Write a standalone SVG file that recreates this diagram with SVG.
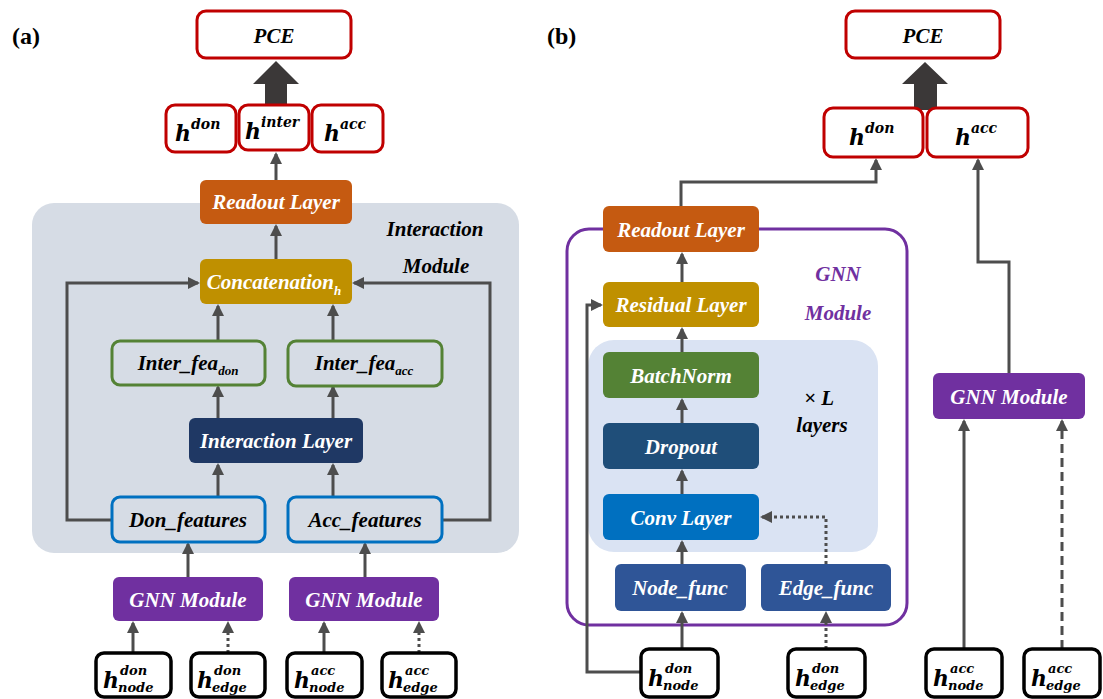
<svg xmlns="http://www.w3.org/2000/svg" width="1103" height="699" viewBox="0 0 1103 699">
<style>
.lbl{font-family:"Liberation Serif",serif;font-weight:bold;font-style:italic;font-size:21px;text-anchor:middle}
.w{fill:#fff}
.k{fill:#000}
.m{font-family:"DejaVu Serif","Liberation Serif",serif;font-weight:bold;font-style:italic;fill:#000}
.red{fill:#fff;stroke:#c00000;stroke-width:3}
.blk{fill:#fff;stroke:#000;stroke-width:3.5}
.c{fill:none;stroke:#4d4d4d;stroke-width:3}
.dot{stroke-dasharray:3 3}
.dash{stroke-dasharray:9 5}
.pl{font-family:"Liberation Serif",serif;font-weight:bold;font-size:24px;fill:#000}
</style>
<defs>
<marker id="ah" markerUnits="userSpaceOnUse" markerWidth="12" markerHeight="12" viewBox="0 0 12 12" refX="10" refY="6" orient="auto">
<path d="M0,0 L12,6 L0,12 z" fill="#4d4d4d"/>
</marker>
</defs>
<rect width="1103" height="699" fill="#fff"/>

<!-- Panel labels -->
<text class="pl" x="12" y="44">(a)</text>
<text class="pl" x="547" y="44">(b)</text>

<!-- Backgrounds -->
<g id="interaction-module">
<rect x="32" y="203" width="487" height="350" rx="22" fill="#d6dce5"/>
<text class="lbl k" x="435" y="236">Interaction</text>
<text class="lbl k" x="436" y="273">Module</text>
</g>
<g id="gnn-module-b">
<rect x="567" y="229" width="340" height="396" rx="22" fill="#fff" stroke="#7030a0" stroke-width="3"/>
<text class="lbl" x="838" y="281" fill="#7030a0">GNN</text>
<text class="lbl" x="838" y="320" fill="#7030a0">Module</text>
<rect x="588" y="340" width="290" height="212" rx="26" fill="#dae3f3"/>
<text class="lbl k" x="819" y="405">× L</text>
<text class="lbl k" x="822" y="432">layers</text>
</g>

<!-- Connectors -->
<g id="connectors">
<polygon points="276,61 299,84 287,84 287,108 265,108 265,84 253,84" fill="#3b3838"/>
<polygon points="925,62 948,84 937,84 937,110 914,110 914,84 902,84" fill="#3b3838"/>
<!-- panel a -->
<line class="c" x1="276" y1="180" x2="276" y2="154" marker-end="url(#ah)"/>
<line class="c" x1="276" y1="259" x2="276" y2="226" marker-end="url(#ah)"/>
<line class="c" x1="218" y1="341" x2="218" y2="306" marker-end="url(#ah)"/>
<line class="c" x1="333" y1="341" x2="333" y2="306" marker-end="url(#ah)"/>
<line class="c" x1="218" y1="418" x2="218" y2="387" marker-end="url(#ah)"/>
<line class="c" x1="333" y1="418" x2="333" y2="387" marker-end="url(#ah)"/>
<line class="c" x1="218" y1="497" x2="218" y2="465" marker-end="url(#ah)"/>
<line class="c" x1="333" y1="497" x2="333" y2="465" marker-end="url(#ah)"/>
<path class="c" d="M111,520 H67 V283 H198" marker-end="url(#ah)"/>
<path class="c" d="M442,520 H490 V283 H354" marker-end="url(#ah)"/>
<line class="c" x1="188" y1="577" x2="188" y2="544" marker-end="url(#ah)"/>
<line class="c" x1="365" y1="577" x2="365" y2="544" marker-end="url(#ah)"/>
<line class="c" x1="133" y1="653" x2="133" y2="623" marker-end="url(#ah)"/>
<line class="c dot" x1="228" y1="653" x2="228" y2="623" marker-end="url(#ah)"/>
<line class="c" x1="324" y1="653" x2="324" y2="623" marker-end="url(#ah)"/>
<line class="c dot" x1="419" y1="653" x2="419" y2="623" marker-end="url(#ah)"/>
<!-- panel b -->
<path class="c" d="M681,206 V182 H876 V160" marker-end="url(#ah)"/>
<path class="c" d="M1009,373 V262 H978 V160" marker-end="url(#ah)"/>
<line class="c" x1="682" y1="282" x2="682" y2="254" marker-end="url(#ah)"/>
<line class="c" x1="682" y1="352" x2="682" y2="329" marker-end="url(#ah)"/>
<line class="c" x1="682" y1="423" x2="682" y2="400" marker-end="url(#ah)"/>
<line class="c" x1="682" y1="494" x2="682" y2="471" marker-end="url(#ah)"/>
<line class="c" x1="682" y1="564" x2="682" y2="542" marker-end="url(#ah)"/>
<path class="c dot" d="M826,564 V517 H762" marker-end="url(#ah)"/>
<line class="c" x1="682" y1="649" x2="682" y2="613" marker-end="url(#ah)"/>
<line class="c dot" x1="826" y1="649" x2="826" y2="613" marker-end="url(#ah)"/>
<path class="c" d="M641,672 H587 V305 H601" marker-end="url(#ah)"/>
<line class="c" x1="964" y1="649" x2="964" y2="421" marker-end="url(#ah)"/>
<line class="c dash" x1="1062" y1="649" x2="1062" y2="421" marker-end="url(#ah)"/>
</g>

<!-- Panel a nodes -->
<g id="pce-a"><rect class="red" x="197" y="11" width="154" height="47" rx="9"/><text class="lbl k" x="274" y="43" font-size="23">PCE</text></g>
<g id="h-don-a"><rect class="red" x="166" y="105" width="70" height="47" rx="9"/><text class="m" x="175" y="141" font-size="22">h<tspan font-size="14" dy="-12">don</tspan></text></g>
<g id="h-inter-a"><rect class="red" x="239" y="105" width="70" height="45" rx="9"/><text class="m" x="245" y="139" font-size="22">h<tspan font-size="14" dy="-12">inter</tspan></text></g>
<g id="h-acc-a"><rect class="red" x="312" y="105" width="71" height="47" rx="9"/><text class="m" x="324" y="141" font-size="22">h<tspan font-size="14" dy="-12">acc</tspan></text></g>
<g id="readout-a"><rect x="200" y="180" width="152" height="44" rx="6" fill="#c55a11"/><text class="lbl w" x="276" y="209">Readout Layer</text></g>
<g id="concat-a"><rect x="200" y="259" width="152" height="45" rx="6" fill="#bf9000"/><text class="lbl w" x="274" y="289">Concatenation<tspan font-size="13" dy="6">h</tspan></text></g>
<g id="interfea-don"><rect x="112" y="341" width="153" height="44" rx="8" fill="#d6dce5" stroke="#548235" stroke-width="3"/><text class="lbl k" x="188" y="370">Inter_fea<tspan font-size="13" dy="5">don</tspan></text></g>
<g id="interfea-acc"><rect x="288" y="341" width="154" height="45" rx="8" fill="#d6dce5" stroke="#548235" stroke-width="3"/><text class="lbl k" x="364" y="370">Inter_fea<tspan font-size="13" dy="5">acc</tspan></text></g>
<g id="interaction-layer"><rect x="189" y="418" width="174" height="45" rx="6" fill="#1f3864"/><text class="lbl w" x="276" y="448">Interaction Layer</text></g>
<g id="don-features"><rect x="112" y="497" width="153" height="45" rx="8" fill="#d6dce5" stroke="#0070c0" stroke-width="3"/><text class="lbl k" x="188" y="527">Don_features</text></g>
<g id="acc-features"><rect x="288" y="497" width="154" height="45" rx="8" fill="#d6dce5" stroke="#0070c0" stroke-width="3"/><text class="lbl k" x="365" y="527">Acc_features</text></g>
<g id="gnn-don-a"><rect x="113" y="577" width="150" height="44" rx="6" fill="#7030a0"/><text class="lbl w" x="188" y="607">GNN Module</text></g>
<g id="gnn-acc-a"><rect x="289" y="577" width="150" height="44" rx="6" fill="#7030a0"/><text class="lbl w" x="364" y="607">GNN Module</text></g>
<g id="h-node-don-a"><rect class="blk" x="96" y="653" width="75" height="44" rx="8"/><text class="m" x="103" y="688" font-size="22">h</text><text class="m" x="120" y="675" font-size="13">don</text><text class="m" x="118" y="692" font-size="13">node</text></g>
<g id="h-edge-don-a"><rect class="blk" x="191" y="653" width="74" height="44" rx="8"/><text class="m" x="197" y="688" font-size="22">h</text><text class="m" x="214" y="675" font-size="13">don</text><text class="m" x="212" y="692" font-size="13">edge</text></g>
<g id="h-node-acc-a"><rect class="blk" x="287" y="653" width="75" height="44" rx="8"/><text class="m" x="294" y="688" font-size="22">h</text><text class="m" x="311" y="675" font-size="13">acc</text><text class="m" x="309" y="692" font-size="13">node</text></g>
<g id="h-edge-acc-a"><rect class="blk" x="382" y="653" width="74" height="44" rx="8"/><text class="m" x="388" y="688" font-size="22">h</text><text class="m" x="405" y="675" font-size="13">acc</text><text class="m" x="403" y="692" font-size="13">edge</text></g>

<!-- Panel b nodes -->
<g id="pce-b"><rect class="red" x="846" y="11" width="154" height="47" rx="9"/><text class="lbl k" x="923" y="43" font-size="23">PCE</text></g>
<g id="h-don-b"><rect class="red" x="824" y="108" width="99" height="49" rx="9"/><text class="m" x="849" y="145" font-size="22">h<tspan font-size="14" dy="-12">don</tspan></text></g>
<g id="h-acc-b"><rect class="red" x="927" y="108" width="101" height="49" rx="9"/><text class="m" x="955" y="145" font-size="22">h<tspan font-size="14" dy="-12">acc</tspan></text></g>
<g id="readout-b"><rect x="603" y="206" width="156" height="46" rx="6" fill="#c55a11"/><text class="lbl w" x="681" y="237">Readout Layer</text></g>
<g id="residual-b"><rect x="603" y="282" width="156" height="45" rx="6" fill="#bf9000"/><text class="lbl w" x="681" y="312">Residual Layer</text></g>
<g id="batchnorm-b"><rect x="603" y="352" width="156" height="46" rx="6" fill="#548235"/><text class="lbl w" x="681" y="383">BatchNorm</text></g>
<g id="dropout-b"><rect x="603" y="423" width="156" height="46" rx="6" fill="#1f4e79"/><text class="lbl w" x="681" y="454">Dropout</text></g>
<g id="conv-b"><rect x="603" y="494" width="156" height="46" rx="6" fill="#0070c0"/><text class="lbl w" x="681" y="525">Conv Layer</text></g>
<g id="nodefunc-b"><rect x="615" y="564" width="131" height="47" rx="6" fill="#2f5597"/><text class="lbl w" x="680" y="595">Node_func</text></g>
<g id="edgefunc-b"><rect x="761" y="564" width="130" height="47" rx="6" fill="#2f5597"/><text class="lbl w" x="826" y="595">Edge_func</text></g>
<g id="gnn-acc-b"><rect x="933" y="373" width="152" height="46" rx="6" fill="#7030a0"/><text class="lbl w" x="1009" y="404">GNN Module</text></g>
<g id="h-node-don-b"><rect class="blk" x="641" y="649" width="77" height="48" rx="8"/><text class="m" x="648" y="686" font-size="22">h</text><text class="m" x="665" y="673" font-size="13">don</text><text class="m" x="663" y="690" font-size="13">node</text></g>
<g id="h-edge-don-b"><rect class="blk" x="788" y="649" width="77" height="48" rx="8"/><text class="m" x="795" y="686" font-size="22">h</text><text class="m" x="812" y="673" font-size="13">don</text><text class="m" x="810" y="690" font-size="13">edge</text></g>
<g id="h-node-acc-b"><rect class="blk" x="926" y="649" width="76" height="48" rx="8"/><text class="m" x="933" y="686" font-size="22">h</text><text class="m" x="950" y="673" font-size="13">acc</text><text class="m" x="948" y="690" font-size="13">node</text></g>
<g id="h-edge-acc-b"><rect class="blk" x="1024" y="649" width="76" height="48" rx="8"/><text class="m" x="1031" y="686" font-size="22">h</text><text class="m" x="1048" y="673" font-size="13">acc</text><text class="m" x="1046" y="690" font-size="13">edge</text></g>
</svg>
